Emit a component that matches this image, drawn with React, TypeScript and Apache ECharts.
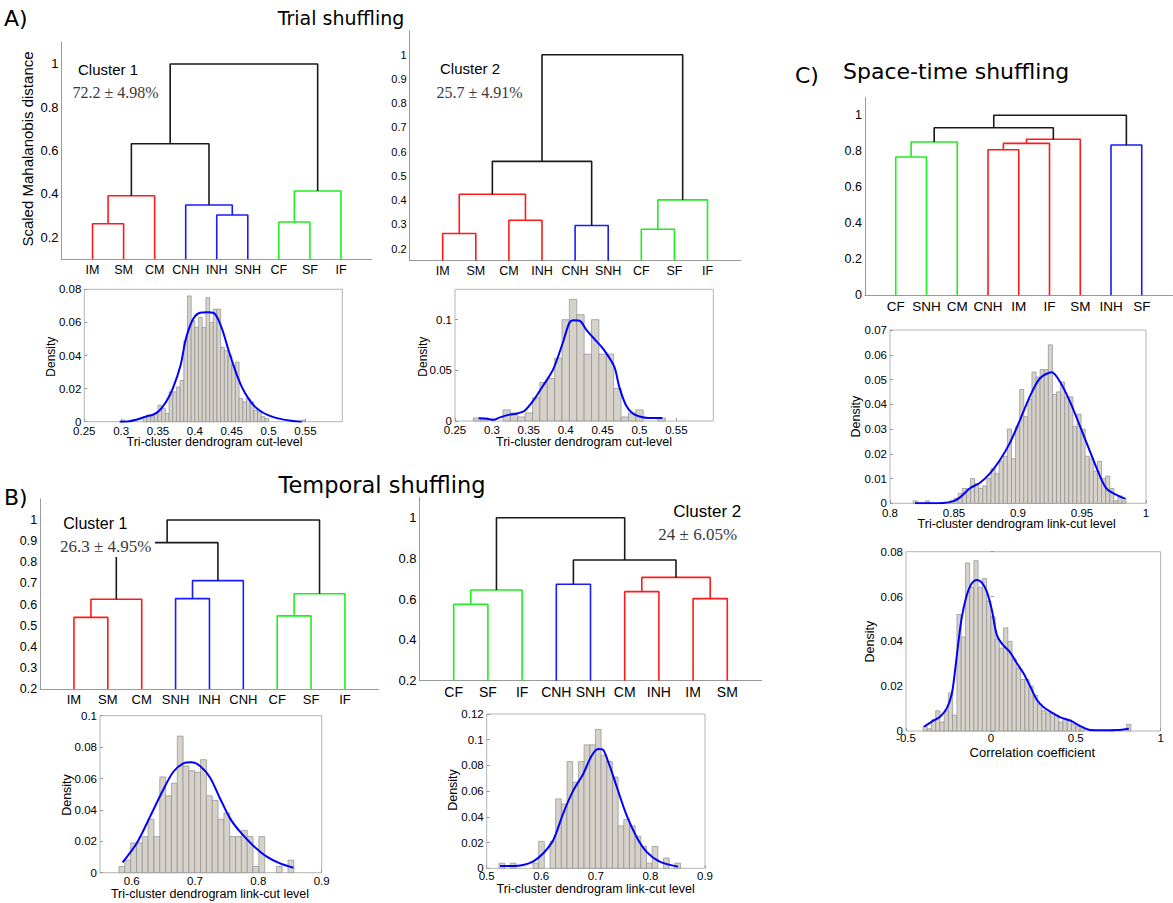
import React, { useEffect, useRef } from 'react';
import * as echarts from 'echarts';

type Link = [number, number, number, string];

// ---------------- Dendrograms ----------------
const a1Leaves = ['IM', 'SM', 'CM', 'CNH', 'INH', 'SNH', 'CF', 'SF', 'IF'];
const a1Links: Link[] = [
  [1, 2, 0.263, 'r'], [10, 3, 0.392, 'r'], [5, 6, 0.303, 'b'], [4, 12, 0.349, 'b'],
  [7, 8, 0.271, 'g'], [14, 9, 0.414, 'g'], [11, 13, 0.632, 'k'], [16, 15, 1.0, 'k'],
];
const a2Leaves = ['IM', 'SM', 'CM', 'INH', 'CNH', 'SNH', 'CF', 'SF', 'IF'];
const a2Links: Link[] = [
  [1, 2, 0.262, 'r'], [3, 4, 0.317, 'r'], [10, 11, 0.424, 'r'], [5, 6, 0.295, 'b'],
  [12, 13, 0.56, 'k'], [7, 8, 0.28, 'g'], [15, 9, 0.401, 'g'], [14, 16, 1.0, 'k'],
];
const b1Leaves = ['IM', 'SM', 'CM', 'SNH', 'INH', 'CNH', 'CF', 'SF', 'IF'];
const b1Links: Link[] = [
  [1, 2, 0.539, 'r'], [10, 3, 0.625, 'r'], [4, 5, 0.628, 'b'], [12, 6, 0.713, 'b'],
  [7, 8, 0.546, 'g'], [14, 9, 0.651, 'g'], [11, 13, 0.893, 'k'], [16, 15, 1.0, 'k'],
];
const b2Leaves = ['CF', 'SF', 'IF', 'CNH', 'SNH', 'CM', 'INH', 'IM', 'SM'];
const b2Links: Link[] = [
  [1, 2, 0.575, 'g'], [10, 3, 0.645, 'g'], [4, 5, 0.673, 'b'], [6, 7, 0.637, 'r'],
  [8, 9, 0.603, 'r'], [13, 14, 0.707, 'r'], [12, 15, 0.792, 'k'], [11, 16, 1.0, 'k'],
];
const cLeaves = ['CF', 'SNH', 'CM', 'CNH', 'IM', 'IF', 'SM', 'INH', 'SF'];
const cLinks: Link[] = [
  [1, 2, 0.768, 'g'], [10, 3, 0.852, 'g'], [4, 5, 0.809, 'r'], [12, 6, 0.844, 'r'],
  [13, 7, 0.867, 'r'], [8, 9, 0.835, 'b'], [11, 14, 0.931, 'k'], [16, 15, 1.0, 'k'],
];

// ---------------- Histograms (bin start, bin width, densities) ----------------
const a1Start = 0.3, a1Width = 0.005;
const a1Hist = [0.001, 0, 0, 0, 0, 0, 0.003, 0.004, 0.003, 0.005,
  0.01, 0.008, 0.005, 0.018, 0.018, 0.021, 0.025, 0.049, 0.076, 0.061,
  0.057, 0.063, 0.057, 0.075, 0.06, 0.068, 0.068, 0.045, 0.043, 0.04,
  0.034, 0.036, 0.014, 0.012, 0.014, 0.012, 0.007, 0.006, 0.003, 0.002,
  0, 0, 0, 0, 0, 0, 0, 0, 0, 0.001];
const a1Kde: [number, number][] = [[0.298, 0], [0.311, 0.0003], [0.325, 0.0018], [0.334, 0.0032], [0.343, 0.0042], [0.352, 0.0068], [0.361, 0.012], [0.37, 0.02], [0.3807, 0.0343], [0.3874, 0.0494], [0.3964, 0.061], [0.4053, 0.0655], [0.4187, 0.0661], [0.4277, 0.0649], [0.4366, 0.0564], [0.4456, 0.0433], [0.4546, 0.0312], [0.4635, 0.0212], [0.4725, 0.0141], [0.4814, 0.0091], [0.4904, 0.006], [0.4993, 0.004], [0.5127, 0.002], [0.5306, 0.0006], [0.545, 0]];

const a2Start = 0.275, a2Width = 0.01;
const a2Hist = [0.003, 0.003, 0, 0, 0.011, 0.008, 0.004, 0.008, 0.023, 0.038, 0.042, 0.062, 0.1, 0.12, 0.105, 0.066, 0.1, 0.066, 0.066, 0.032, 0.004, 0.008, 0.011, 0, 0, 0.003];
const a2Kde: [number, number][] = [[0.282, 0.0026], [0.293, 0.0023], [0.302, 0.0012], [0.311, 0.0036], [0.324, 0.0063], [0.333, 0.0072], [0.344, 0.0099], [0.356, 0.02], [0.369, 0.0345], [0.383, 0.051], [0.396, 0.077], [0.405, 0.097], [0.411, 0.0995], [0.419, 0.099], [0.428, 0.09], [0.44, 0.08], [0.451, 0.071], [0.4658, 0.0536], [0.4725, 0.0339], [0.4815, 0.0158], [0.4905, 0.0076], [0.5, 0.0045], [0.512, 0.003], [0.531, 0.003]];

const b1Start = 0.58, b1Width = 0.0092;
const b1Hist = [0.004, 0.008, 0.019, 0.019, 0.023, 0.034, 0.023, 0.061, 0.049, 0.057, 0.087, 0.068, 0.065, 0.064, 0.072, 0.049, 0.046, 0.034, 0.038, 0.023, 0.023, 0.027, 0.023, 0.004, 0.023, 0, 0, 0.004, 0, 0.008];
const b1Kde: [number, number][] = [[0.5858, 0.0066], [0.6079, 0.0187], [0.629, 0.0357], [0.65, 0.053], [0.6658, 0.0643], [0.6816, 0.0696], [0.6947, 0.0703], [0.7079, 0.068], [0.7237, 0.0607], [0.7395, 0.0473], [0.7553, 0.0346], [0.771, 0.0261], [0.792, 0.0172], [0.8132, 0.0102], [0.8342, 0.0059], [0.8553, 0.0032]];

const b2Start = 0.5224, b2Width = 0.0104;
const b2Hist = [0.004, 0, 0.004, 0, 0, 0, 0.004, 0.021, 0, 0.021, 0.054, 0.05, 0.083, 0.067, 0.083, 0.096, 0.096, 0.108, 0.088, 0.083, 0.071, 0.033, 0.038, 0.033, 0.025, 0.017, 0.004, 0.017, 0, 0.008, 0, 0.004];
const b2Kde: [number, number][] = [[0.5244, 0.0018], [0.5488, 0.0018], [0.567, 0.0026], [0.5854, 0.0054], [0.6037, 0.0117], [0.622, 0.022], [0.6402, 0.0428], [0.6585, 0.0604], [0.6768, 0.0734], [0.692, 0.0874], [0.7043, 0.0928], [0.7122, 0.0925], [0.7226, 0.0829], [0.7378, 0.064], [0.7561, 0.0415], [0.7744, 0.0246], [0.7927, 0.013], [0.8171, 0.0052], [0.8506, 0.0013]];

const c1Start = 0.8181, c1Width = 0.0032;
const c1Hist = [0.001, 0, 0, 0.001, 0, 0, 0, 0, 0, 0.001,
  0.002, 0.004, 0.006, 0.006, 0.01, 0.008, 0.006, 0.007, 0.01, 0.014,
  0.012, 0.017, 0.019, 0.03, 0.018, 0.031, 0.046, 0.035, 0.042, 0.053,
  0.051, 0.054, 0.054, 0.064, 0.044, 0.045, 0.049, 0.043, 0.043, 0.031,
  0.036, 0.03, 0.019, 0.018, 0.013, 0.017, 0.01, 0.011, 0.006, 0.001,
  0.003, 0.001];
const c1Kde: [number, number][] = [[0.8195, 0], [0.8313, 0], [0.8417, 0.0001], [0.8495, 0.0009], [0.8547, 0.0024], [0.8625, 0.0061], [0.8703, 0.0083], [0.8781, 0.0121], [0.8859, 0.0175], [0.8938, 0.0245], [0.9016, 0.0337], [0.9094, 0.0433], [0.9172, 0.0505], [0.9263, 0.0529], [0.9328, 0.0491], [0.9406, 0.0411], [0.9484, 0.0312], [0.9563, 0.0209], [0.9615, 0.0141], [0.969, 0.006], [0.9784, 0.003], [0.9841, 0.0018]];

const c2Start = -0.4, c2Width = 0.025;
const c2Hist = [0.002, 0.001, 0.005, 0.009, 0.004, 0.009, 0.017, 0.007, 0.052, 0.042,
  0.075, 0.064, 0.076, 0.064, 0.068, 0.058, 0.051, 0.041, 0.037, 0.046,
  0.04, 0.032, 0.028, 0.023, 0.023, 0.02, 0.016, 0.012, 0.009, 0.008,
  0.008, 0.007, 0.004, 0.005, 0.005, 0.003, 0.002, 0.001, 0, 0,
  0, 0, 0, 0, 0.0005, 0, 0, 0, 0.003];
const c2Kde: [number, number][] = [[-0.3937, 0.0019], [-0.3386, 0.0046], [-0.2992, 0.0064], [-0.2598, 0.0101], [-0.2303, 0.0165], [-0.2106, 0.0272], [-0.191, 0.0398], [-0.1713, 0.0507], [-0.1417, 0.0607], [-0.1122, 0.0659], [-0.0827, 0.0674], [-0.0531, 0.0662], [-0.0236, 0.0622], [0.0059, 0.054], [0.0354, 0.0428], [0.0709, 0.0384], [0.1102, 0.0354], [0.1535, 0.0302], [0.1929, 0.0257], [0.2323, 0.0198], [0.2717, 0.0138], [0.311, 0.0106], [0.3504, 0.0086], [0.4094, 0.0061], [0.4685, 0.0046], [0.5276, 0.0022], [0.5866, 0.0004], [0.6654, 0.0003], [0.7441, 0.0004], [0.813, 0.001]];

// ---------------- Tick values ----------------
const leafTicks = [1, 2, 3, 4, 5, 6, 7, 8, 9];
const yTicksA1 = [0.2, 0.4, 0.6, 0.8, 1];
const yTicksA2 = [0.2, 0.3, 0.4, 0.5, 0.6, 0.7, 0.8, 0.9, 1];
const yTicksB1 = [0.2, 0.3, 0.4, 0.5, 0.6, 0.7, 0.8, 0.9, 1];
const yTicksB2 = [0.2, 0.4, 0.6, 0.8, 1];
const yTicksC = [0, 0.2, 0.4, 0.6, 0.8, 1];
const xTicksAHist = [0.25, 0.3, 0.35, 0.4, 0.45, 0.5, 0.55];
const yTicksA1Hist = [0, 0.02, 0.04, 0.06, 0.08];
const yTicksA2Hist = [0, 0.05, 0.1];
const xTicksB1Hist = [0.6, 0.7, 0.8, 0.9];
const yTicksB1Hist = [0, 0.02, 0.04, 0.06, 0.08, 0.1];
const xTicksB2Hist = [0.5, 0.6, 0.7, 0.8, 0.9];
const yTicksB2Hist = [0, 0.02, 0.04, 0.06, 0.08, 0.1, 0.12];
const xTicksC1Hist = [0.8, 0.85, 0.9, 0.95, 1];
const yTicksC1Hist = [0, 0.01, 0.02, 0.03, 0.04, 0.05, 0.06, 0.07];
const xTicksC2Hist = [-0.5, 0, 0.5, 1];
const yTicksC2Hist = [0, 0.02, 0.04, 0.06, 0.08];

const COLORS: Record<string, string> = { r: '#ff1a1a', b: '#1a1aff', g: '#1fee1f', k: '#1a1a1a' };
const SANS = '"Liberation Sans", Arial, sans-serif';
const SERIF = '"Liberation Serif", "Times New Roman", serif';
const TITLE = '"DejaVu Sans", sans-serif';
const fmt = (v: number) => String(Math.round(v * 10000) / 10000);

function dendroSegments(n: number, links: Link[], base: number) {
  const pos: Record<number, number> = {};
  const hgt: Record<number, number> = {};
  for (let i = 1; i <= n; i++) { pos[i] = i; hgt[i] = base; }
  return links.map(([a, b, h, c], k) => {
    const id = n + 1 + k;
    pos[id] = (pos[a] + pos[b]) / 2;
    hgt[id] = h;
    return { color: COLORS[c], pts: [[pos[a], hgt[a]], [pos[a], h], [pos[b], h], [pos[b], hgt[b]]] };
  });
}

export default function App() {
  const ref = useRef<HTMLDivElement>(null);
  useEffect(() => {
    document.body.style.margin = '0';
    const chart = echarts.init(ref.current!, undefined, { renderer: 'svg' });

    const dendros = [
      { leaves: a1Leaves, links: a1Links, box: [61.5, 42.3, 310.5, 216.7], ymin: 0.1, yt: yTicksA1, tf: 13, lf: 12.5 },
      { leaves: a2Leaves, links: a2Links, box: [409.6, 30.5, 331, 230.2], ymin: 0.15, yt: yTicksA2, tf: 11, lf: 12.5 },
      { leaves: b1Leaves, links: b1Links, box: [40.1, 498.9, 338.7, 190.1], ymin: 0.2, yt: yTicksB1, tf: 12.5, lf: 13 },
      { leaves: b2Leaves, links: b2Links, box: [419.5, 497.3, 342, 183.4], ymin: 0.2, yt: yTicksB2, tf: 13, lf: 14 },
      { leaves: cLeaves, links: cLinks, box: [865, 97.3, 307.5, 198], ymin: 0, yt: yTicksC, tf: 12.5, lf: 13.5 },
    ];
    const hists = [
      { start: a1Start, w: a1Width, h: a1Hist, kde: a1Kde, box: [84.3, 289.3, 258, 132.4], x: [0.25, 0.6], y: [0, 0.08], xt: xTicksAHist, yt: yTicksA1Hist, xm: 3 },
      { start: a2Start, w: a2Width, h: a2Hist, kde: a2Kde, box: [455, 289.3, 258.3, 131.7], x: [0.25, 0.6], y: [0, 0.13], xt: xTicksAHist, yt: yTicksA2Hist, xm: 3 },
      { start: b1Start, w: b1Width, h: b1Hist, kde: b1Kde, box: [100, 715.7, 221.7, 157], x: [0.55, 0.9], y: [0, 0.1], xt: xTicksB1Hist, yt: yTicksB1Hist, xm: 2 },
      { start: b2Start, w: b2Width, h: b2Hist, kde: b2Kde, box: [486.7, 714, 218.3, 154.3], x: [0.5, 0.9], y: [0, 0.12], xt: xTicksB2Hist, yt: yTicksB2Hist, xm: 2 },
      { start: c1Start, w: c1Width, h: c1Hist, kde: c1Kde, box: [890, 330, 256, 173.3], x: [0.8, 1], y: [0, 0.07], xt: xTicksC1Hist, yt: yTicksC1Hist, xm: 4 },
      { start: c2Start, w: c2Width, h: c2Hist, kde: c2Kde, box: [906, 551.7, 254.6, 179.3], x: [-0.5, 1], y: [0, 0.08], xt: xTicksC2Hist, yt: yTicksC2Hist, xm: 1 },
    ];

    const grid: any[] = [];
    const xAxis: any[] = [];
    const yAxis: any[] = [];
    const series: any[] = [];
    const axisGray = '#9a9a9a';

    dendros.forEach((d, i) => {
      const [l, t, w, h] = d.box;
      grid.push({ left: l, top: t, width: w, height: h, containLabel: false, outerBoundsMode: 'none' });
      xAxis.push({
        type: 'value', gridIndex: i, min: 0, max: 10,
        axisLine: { show: true, onZero: false, lineStyle: { color: axisGray, width: 1 } },
        axisTick: { show: false }, splitLine: { show: false },
        axisLabel: {
          customValues: leafTicks, formatter: (v: number) => d.leaves[Math.round(v) - 1] || '',
          fontSize: d.lf, fontFamily: SANS, color: '#000', margin: 4,
        },
      });
      yAxis.push({
        type: 'value', gridIndex: i, min: d.ymin, max: 1.1,
        axisLine: { show: true, onZero: false, lineStyle: { color: axisGray, width: 1 } },
        axisTick: { show: false }, splitLine: { show: false },
        axisLabel: { customValues: d.yt, formatter: fmt, fontSize: d.tf, fontFamily: SANS, color: '#000', margin: 3 },
      });
      dendroSegments(d.leaves.length, d.links, d.ymin).forEach((s) => {
        series.push({
          type: 'line', xAxisIndex: i, yAxisIndex: i, data: s.pts, symbol: 'none', silent: true,
          lineStyle: { color: s.color, width: 1.6 }, z: 3,
        });
      });
    });

    hists.forEach((hh, j) => {
      const i = dendros.length + j;
      const [l, t, w, h] = hh.box;
      grid.push({
        left: l, top: t, width: w, height: h, show: true, borderColor: '#b4b4b4', borderWidth: 1,
        backgroundColor: 'transparent', containLabel: false, outerBoundsMode: 'none',
      });
      xAxis.push({
        type: 'value', gridIndex: i, min: hh.x[0], max: hh.x[1],
        axisLine: { show: false }, splitLine: { show: false },
        axisTick: { show: true, inside: true, length: 3, customValues: hh.xt, lineStyle: { color: '#999' } },
        axisLabel: { customValues: hh.xt, formatter: fmt, fontSize: 11.5, fontFamily: SANS, color: '#000', margin: hh.xm },
      });
      yAxis.push({
        type: 'value', gridIndex: i, min: hh.y[0], max: hh.y[1],
        axisLine: { show: false }, splitLine: { show: false },
        axisTick: { show: true, inside: true, length: 3, customValues: hh.yt, lineStyle: { color: '#999' } },
        axisLabel: { customValues: hh.yt, formatter: fmt, fontSize: 11.5, fontFamily: SANS, color: '#000', margin: 3 },
      });
      const bars = hh.h
        .map((v, k) => [hh.start + k * hh.w, hh.start + (k + 1) * hh.w, v])
        .filter((b) => b[2] > 0);
      series.push({
        type: 'custom', xAxisIndex: i, yAxisIndex: i, data: bars, silent: true, z: 2,
        encode: { x: [0, 1], y: 2 },
        renderItem: (params: any, api: any) => {
          const p0 = api.coord([api.value(0), api.value(2)]);
          const p1 = api.coord([api.value(1), 0]);
          return {
            type: 'rect',
            shape: { x: p0[0], y: p0[1], width: p1[0] - p0[0], height: p1[1] - p0[1] },
            style: { fill: '#d6d2ca', stroke: '#8f8f8f', lineWidth: 0.7 },
          };
        },
      });
      series.push({
        type: 'line', xAxisIndex: i, yAxisIndex: i, data: hh.kde, symbol: 'none', smooth: 0.3,
        silent: true, lineStyle: { color: '#0000ff', width: 2 }, z: 4,
      });
    });

    const txt = (text: string, x: number, y: number, size: number, family: string, opts: any = {}) => ({
      type: 'text', x, y, z: 100, rotation: opts.rot || 0,
      style: {
        text, fontSize: size, fontFamily: family, fill: opts.color || '#000',
        textAlign: opts.align || 'left', textVerticalAlign: 'middle', fontWeight: opts.weight || 'normal',
      },
    });
    const rot = Math.PI / 2;
    const graphic: any[] = [
      txt('A)', 4, 18, 22, TITLE),
      txt('Trial shuffling', 341, 18, 19, TITLE, { align: 'center' }),
      txt('B)', 4, 497, 22, TITLE),
      txt('Temporal shuffling', 382, 485, 22.5, TITLE, { align: 'center' }),
      txt('C)', 795, 75, 22, TITLE),
      txt('Space-time shuffling', 843, 71, 22, TITLE),
      txt('Scaled Mahalanobis distance', 27.5, 149, 15, SANS, { align: 'center', rot }),
      txt('Cluster 1', 78, 69, 15, SANS),
      txt('72.2 ± 4.98%', 72.5, 92, 16, SERIF, { color: '#3a3a3a' }),
      txt('Cluster 2', 440, 68, 15, SANS),
      txt('25.7 ± 4.91%', 436.5, 92, 16, SERIF, { color: '#3a3a3a' }),
      { type: 'rect', z: 99, shape: { x: 58, y: 536, width: 97, height: 21 }, style: { fill: '#fff' } },
      txt('Cluster 1', 63.3, 523.3, 16, SANS),
      txt('26.3 ± 4.95%', 60, 546, 17, SERIF, { color: '#3a3a3a' }),
      txt('Cluster 2', 673.3, 511, 17, SANS),
      txt('24 ± 6.05%', 658.3, 534.3, 17, SERIF, { color: '#3a3a3a' }),
      txt('Density', 50.7, 356.7, 12, SANS, { align: 'center', rot }),
      txt('Tri-cluster dendrogram cut-level', 214.5, 442, 12.5, SANS, { align: 'center' }),
      txt('Density', 422.7, 356.7, 12, SANS, { align: 'center', rot }),
      txt('Tri-cluster dendrogram cut-level', 584, 442, 12.5, SANS, { align: 'center' }),
      txt('Density', 66.7, 795, 12.5, SANS, { align: 'center', rot }),
      txt('Tri-cluster dendrogram link-cut level', 210, 893.5, 12.5, SANS, { align: 'center' }),
      txt('Density', 453.3, 790, 12.5, SANS, { align: 'center', rot }),
      txt('Tri-cluster dendrogram link-cut level', 595.7, 889, 12.5, SANS, { align: 'center' }),
      txt('Density', 856, 416.7, 12.5, SANS, { align: 'center', rot }),
      txt('Tri-cluster dendrogram link-cut level', 1016.7, 524, 12.5, SANS, { align: 'center' }),
      txt('Density', 870, 641.7, 12.5, SANS, { align: 'center', rot }),
      txt('Correlation coefficient', 1032.3, 752.3, 13, SANS, { align: 'center' }),
    ];

    chart.setOption({
      animation: false,
      backgroundColor: '#fff',
      grid, xAxis, yAxis, series, graphic,
    });
    return () => chart.dispose();
  }, []);
  return <div ref={ref} style={{ width: 1173, height: 903 }} />;
}
